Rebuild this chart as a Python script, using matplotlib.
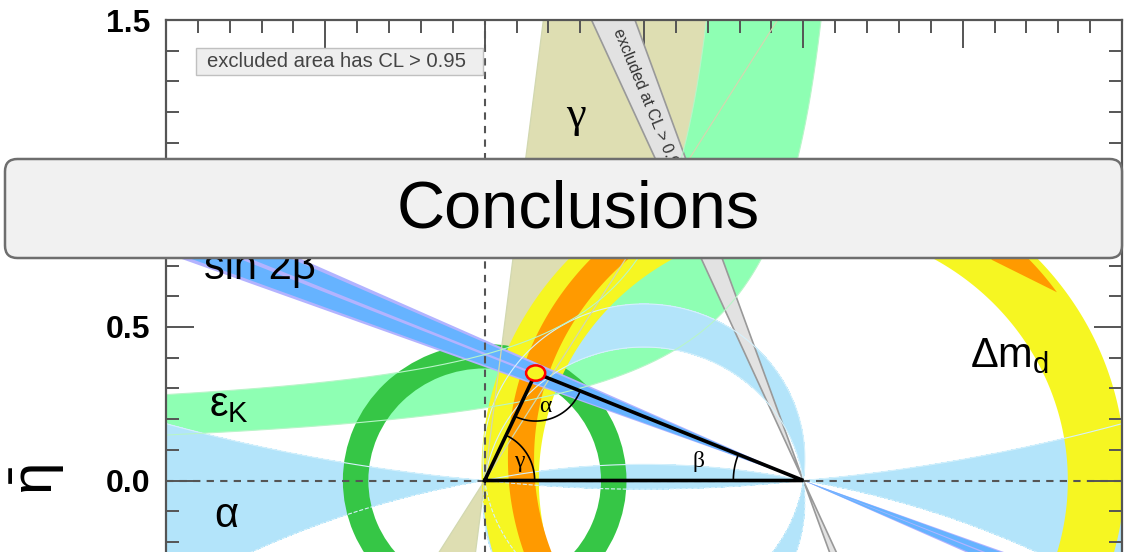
import numpy as np
import matplotlib
matplotlib.use('Agg')
import matplotlib.pyplot as plt
from matplotlib.patches import Annulus, Ellipse, Rectangle, FancyBboxPatch, PathPatch
from matplotlib.path import Path
from matplotlib.ticker import MultipleLocator

plt.rcParams['font.family'] = ['Liberation Sans', 'DejaVu Sans']
plt.rcParams['mathtext.fontset'] = 'custom'
plt.rcParams['mathtext.rm'] = 'Liberation Sans'
plt.rcParams['mathtext.it'] = 'Liberation Sans:italic'
plt.rcParams['mathtext.bf'] = 'Liberation Sans:bold'

# apex of the unitarity triangle (rho-bar, eta-bar)
apex = (0.16, 0.35)
apex_size = (0.06, 0.05)

# gamma: double wedge through the origin, degrees
gamma_band = [58.5, 83.0]
# sin 2beta: double wedge through (1, 0), beta in degrees
sin2b_outer = [20.3, 24.6]
sin2b_inner = [20.6, 24.2]
sin2b_core = [22.2, 22.6]
# region excluded at CL > 0.95, wedge through (1, 0)
excl_band = [66.1, 70.6]
# alpha: allowed ranges (degrees) above and below the rho axis
alpha_upper = [(0.0, 5.2), (82.0, 98.0), (168.0, 180.01)]
alpha_lower = [(-180.01, -173.5), (-98.0, -82.0), (-10.0, 0.0)]
# eps_K band edges: eta = k / (a - rho) + b
epsk_low = (0.24, 1.22, 0.04)
epsk_high = (0.205, 0.85, 0.169)
# |Vub| ring around the origin: inner, outer radius
vub_ring = [0.365, 0.445]
# Delta m_d ring edges: (centre rho, centre eta, radius)
dmd_inner = (1.0, 0.0, 0.83)
dmd_outer = (1.0, 0.03, 1.01)
# Delta m_s / Delta m_d ring piece
dms_centre = (1.02, 0.07)
dms_radii = [0.865, 0.947]
dms_start = [35.0, 48.5]   # outer, inner edge
dms_end = 250.0

yticks = [0.0, 0.5, 1.0, 1.5]

c_tan = '#dedeb2'
c_epsk = '#8effb3'
c_alpha = '#b3e4fa'
c_vub = '#36c646'
c_dmd = '#f6f622'
c_dms = '#ff9a00'
c_blue = '#66b3ff'
c_lilac = '#b3b3ff'
c_excl = '#e2e2e2'

fig = plt.figure(figsize=(11.24, 5.52), dpi=100)
ax = fig.add_axes([166/1124, 1 - 634/552, 956/1124, 614/552])
ax.set_xlim(-1, 2)
ax.set_ylim(-0.5, 1.5)


def wedge(vertex, angles, sign, length=6.0):
    # two opposite triangles meeting at vertex
    x0, y0 = vertex
    a1, a2 = np.radians(angles)
    tris = []
    for s in (1, -1):
        tris.append(([x0, x0 + s*sign*length*np.cos(a1), x0 + s*sign*length*np.cos(a2)],
                     [y0, y0 + s*length*np.sin(a1), y0 + s*length*np.sin(a2)]))
    return tris


def arc(cx, cy, r, a0, a1, n=400):
    t = np.radians(np.linspace(a0, a1, n))
    return cx + r*np.cos(t), cy + r*np.sin(t)


# gamma
for xs, ys in wedge((0, 0), gamma_band, 1):
    ax.fill(xs, ys, color=c_tan, lw=0, zorder=1.0)

# eps_K
rho = np.linspace(-1, 2, 3001)
def epsk_edge(p):
    k, a, b = p
    with np.errstate(divide='ignore'):
        e = np.where(rho < a, k/(a - rho) + b, 5.0)
    return np.clip(e, -5, 5)
lo, hi = epsk_edge(epsk_low), epsk_edge(epsk_high)
ax.fill_between(rho, lo, np.maximum(hi, lo), color=c_epsk, lw=0, zorder=1.1)

# alpha, computed on a grid for each half plane
R1, E1 = np.meshgrid(np.linspace(-1, 2, 1500), np.linspace(0, 1.5, 750))
R2, E2 = np.meshgrid(np.linspace(-1, 2, 1500), np.linspace(-0.5, 0, 250))
E2 = np.where(E2 == 0, -0.0, E2)
A1 = np.degrees(np.arctan2(E1, R1 - 1) - np.arctan2(E1, R1))
A2 = np.degrees(np.arctan2(E2, R2 - 1) - np.arctan2(E2, R2))
for a_lo, a_hi in alpha_upper:
    ax.contourf(R1, E1, A1, levels=[a_lo, a_hi], colors=[c_alpha], zorder=1.2)
for a_lo, a_hi in alpha_lower:
    ax.contourf(R2, E2, A2, levels=[a_lo, a_hi], colors=[c_alpha], zorder=1.2)

# |Vub| ring
ax.add_patch(Annulus((0, 0), vub_ring[1], vub_ring[1] - vub_ring[0],
                     color=c_vub, lw=0, zorder=1.3))

# Delta m_d ring
ox, oy = arc(dmd_outer[0], dmd_outer[1], dmd_outer[2], 0, 360)
ix, iy = arc(dmd_inner[0], dmd_inner[1], dmd_inner[2], 360, 0)
verts = np.concatenate([np.column_stack([ox, oy]), [[ox[0], oy[0]]],
                        np.column_stack([ix, iy]), [[ix[0], iy[0]]]])
codes = ([Path.MOVETO] + [Path.LINETO]*(len(ox) - 1) + [Path.CLOSEPOLY]) * 2
ax.add_patch(PathPatch(Path(verts, codes), color=c_dmd, lw=0, zorder=1.4))

# Delta m_s piece
ox, oy = arc(dms_centre[0], dms_centre[1], dms_radii[1], dms_start[0], dms_end)
ix, iy = arc(dms_centre[0], dms_centre[1], dms_radii[0], dms_end, dms_start[1])
ax.fill(np.r_[ox, ix], np.r_[oy, iy], color=c_dms, lw=0, zorder=1.5)

# sin 2beta
for band, col in [(sin2b_outer, c_lilac), (sin2b_inner, c_blue), (sin2b_core, c_lilac)]:
    for xs, ys in wedge((1, 0), band, -1):
        ax.fill(xs, ys, color=col, lw=0, zorder=1.6)

# excluded wedge
for xs, ys in wedge((1, 0), excl_band, -1):
    ax.fill(xs, ys, facecolor=c_excl, edgecolor='#999999', lw=1.2, zorder=1.7)

# thin contour lines on top of the bands
ax.contour(R1, E1, A1, levels=[5.2, 82.0, 98.0, 168.0], colors='#d6f1fc', linewidths=0.8, zorder=1.8)
ax.contour(R2, E2, A2, levels=[-173.5, -98.0, -82.0, -10.0], colors='#d6f1fc', linewidths=0.8, zorder=1.8)
for g in gamma_band:
    t = np.array([-3, 3])
    ax.plot(t*np.cos(np.radians(g)), t*np.sin(np.radians(g)), color='#d2d8b0', lw=0.9, zorder=1.8)
ax.plot(rho, lo, color='#b8f5c8', lw=0.8, zorder=1.8)
ax.plot(rho, hi, color='#b8f5c8', lw=0.8, zorder=1.8)

# axes through the origin
ax.axhline(0, color='#555555', lw=1.5, ls=(0, (3.5, 3)), zorder=3)
ax.axvline(0, color='#555555', lw=1.5, ls=(0, (3.5, 3)), zorder=3)

# triangle and angles
ax.plot([0, apex[0], 1, 0], [0, apex[1], 0, 0], color='black', lw=2.6,
        solid_joinstyle='miter', zorder=4)
ax.add_patch(Ellipse(apex, apex_size[0], apex_size[1], facecolor=c_dmd,
                     edgecolor='red', lw=1.8, zorder=5))


def angle_arc(v, p1, p2, r_px):
    T = ax.transData
    pv, pa, pb = T.transform([v, p1, p2])
    t1 = np.arctan2(pa[1] - pv[1], pa[0] - pv[0])
    t2 = np.arctan2(pb[1] - pv[1], pb[0] - pv[0])
    if t2 - t1 > np.pi:
        t2 -= 2*np.pi
    elif t1 - t2 > np.pi:
        t2 += 2*np.pi
    t = np.linspace(t1, t2, 60)
    pts = pv + r_px*np.column_stack([np.cos(t), np.sin(t)])
    return T.inverted().transform(pts)


for v, p1, p2, r in [(apex, (0, 0), (1, 0), 48), ((0, 0), apex, (1, 0), 50),
                     ((1, 0), apex, (0, 0), 70)]:
    pts = angle_arc(v, p1, p2, r)
    ax.plot(pts[:, 0], pts[:, 1], color='black', lw=1.2, zorder=4)

serif = dict(family='Liberation Serif', fontsize=17, ha='center', va='center', zorder=6)
ax.text(0.191, 0.241, 'α', **serif)
ax.text(0.107, 0.062, 'γ', **serif)
ax.text(0.671, 0.062, 'β', **serif)

# constraint labels
big = dict(fontsize=30, va='baseline', ha='left', zorder=6)
ax.text(-0.88, 0.655, 'sin 2β', **big)
ax.text(-0.865, 0.21, r'$\mathregular{ε_K}$', **big)
ax.text(-0.85, -0.153, 'α', **big)
ax.text(0.257, 1.153, 'γ', family='Liberation Serif', fontsize=32, va='baseline',
        ha='left', zorder=6)
ax.text(1.523, 0.368, r'$\mathregular{Δm_d}$', **big)

# label on the excluded wedge
phi = np.radians(np.mean(excl_band))
p0, p1 = ax.transData.transform([(1, 0), (1 - np.cos(phi), np.sin(phi))])
rot = np.degrees(np.arctan2(p1[1] - p0[1], p1[0] - p0[0])) - 180
eta0 = 1.47
ax.text(1 - eta0*np.cos(phi)/np.sin(phi), eta0, 'excluded at CL > 0.95', rotation=rot,
        rotation_mode='anchor', ha='left', va='center', fontsize=11.5, color='#333333', zorder=6)

# legend note
ax.add_patch(Rectangle((0.0314, 0.9104), 0.3002, 0.044, transform=ax.transAxes,
                       facecolor='#eeeeee', edgecolor='#c0c0c0', lw=1, zorder=6))
ax.text(0.0429, 0.9324, 'excluded area has CL > 0.95', transform=ax.transAxes,
        fontsize=14.6, color='#444444', va='center', ha='left', zorder=7)

# axis styling
ax.xaxis.set_major_locator(MultipleLocator(0.5))
ax.xaxis.set_minor_locator(MultipleLocator(0.1))
ax.set_yticks(yticks)
ax.set_yticklabels(['%.1f' % v for v in yticks], fontweight='bold')
ax.yaxis.set_minor_locator(MultipleLocator(0.1))
ax.tick_params(which='both', direction='in', top=True, right=True,
               color='#555555', width=1.4, labelbottom=False)
ax.tick_params(which='major', length=20)
ax.tick_params(which='minor', length=9.5)
ax.tick_params(axis='y', labelsize=23, pad=11.5)
for s in ax.spines.values():
    s.set_color('#555555')
    s.set_linewidth(1.6)

fig.text(38/1124, 1 - 480/552, r'$\mathregular{\bar{η}}$', rotation=90,
         fontsize=42, ha='center', va='center')

# slide banner
banner = FancyBboxPatch((5/1124, 1 - 258/552), 1117/1124, 99/552,
                        boxstyle='round,pad=0,rounding_size=0.011',
                        mutation_aspect=1124/552, transform=fig.transFigure,
                        facecolor='#f1f1f1', edgecolor='#6e6e6e', lw=1.8, zorder=10)
fig.add_artist(banner)
fig.text(578/1124, 1 - 210/552, 'Conclusions', fontsize=48, ha='center',
         va='center', zorder=11)

fig.savefig('out.png', dpi=100)
